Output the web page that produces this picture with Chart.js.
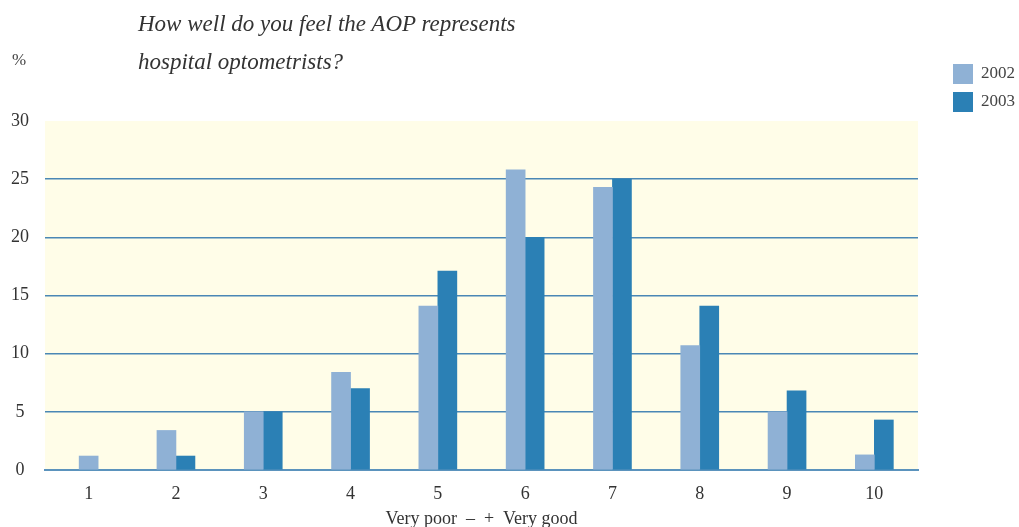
<!DOCTYPE html>
<html>
<head>
<meta charset="utf-8">
<script src="https://cdn.jsdelivr.net/npm/chart.js@4.4.0/dist/chart.umd.min.js"></script>
<style>
  body { margin: 0; background: #fff; }
  #wrap { position: relative; width: 1019px; height: 527px; }
  #grafico { position: absolute; left: 0; top: 0; }
  .titulo { position: absolute; left: 138px; top: 5px; font: italic 23px "Liberation Serif", serif; color: #333; line-height: 38px; }
  .pct { position: absolute; left: 12px; top: 50px; font: 17px "Liberation Serif", serif; color: #444; }
</style>
</head>
<body>
<div id="wrap">
  <canvas id="grafico" width="1019" height="527"></canvas>
  <div class="titulo">How well do you feel the AOP represents<br>hospital optometrists?</div>
  <div class="pct">%</div>
</div>
<script>
const categorias = ['1', '2', '3', '4', '5', '6', '7', '8', '9', '10'];
const anos = ['2002', '2003'];
const valores2002 = [1.2, 3.4, 5.0, 8.4, 14.1, 25.8, 24.3, 10.7, 5.0, 1.3];
const valores2003 = [null, 1.2, 5.0, 7.0, 17.1, 20.0, 25.0, 14.1, 6.8, 4.3];
const cores = ['#8fb1d5', '#2b80b5'];
const rotuloEixo = 'Very poor  \u2013  +  Very good';

const fundo = {
  id: 'fundo',
  beforeDraw(chart) {
    const {ctx, chartArea: a} = chart;
    ctx.save();
    ctx.fillStyle = '#fffde8';
    ctx.fillRect(a.left, a.top, a.right - a.left, a.bottom - a.top);
    ctx.restore();
  }
};

const legenda = {
  id: 'legenda',
  afterDraw(chart) {
    const ctx = chart.ctx;
    ctx.save();
    ctx.font = '17px "Liberation Serif", serif';
    ctx.textBaseline = 'middle';
    chart.data.datasets.forEach((ds, i) => {
      const y = 64 + i * 28;
      ctx.fillStyle = ds.backgroundColor;
      ctx.fillRect(953, y, 20, 20);
      ctx.fillStyle = '#444';
      ctx.fillText(ds.label, 981, y + 10);
    });
    ctx.restore();
  }
};

new Chart(document.getElementById('grafico'), {
  type: 'bar',
  data: {
    labels: categorias,
    datasets: [
      { label: anos[0], data: valores2002, backgroundColor: cores[0] },
      { label: anos[1], data: valores2003, backgroundColor: cores[1] }
    ]
  },
  options: {
    responsive: false,
    animation: false,
    skipNull: true,
    barThickness: 19,
    layout: { padding: { top: 121, right: 101, left: 0, bottom: 0 } },
    plugins: { legend: { display: false }, tooltip: { enabled: false } },
    scales: {
      x: {
        grid: { display: false, drawTicks: false },
        border: { color: '#5b93bd', width: 2 },
        ticks: { color: '#333', font: { family: 'Liberation Serif', size: 18 }, padding: 13 },
        title: { display: true, text: rotuloEixo, color: '#333', font: { family: 'Liberation Serif', size: 18 }, padding: { top: 0, bottom: -3 } },
        afterFit(s) { s.height = 57; }
      },
      y: {
        min: 0, max: 30,
        ticks: { stepSize: 5, color: '#333', crossAlign: 'center', padding: 16, font: { family: 'Liberation Serif', size: 18 } },
        grid: {
          drawTicks: false,
          color: c => c.tick.value === 30 ? 'rgba(0,0,0,0)' : '#4a87b5',
          lineWidth: 1.5
        },
        border: { display: false },
        afterFit(s) { s.width = 45; }
      }
    }
  },
  plugins: [fundo, legenda]
});
</script>
</body>
</html>
